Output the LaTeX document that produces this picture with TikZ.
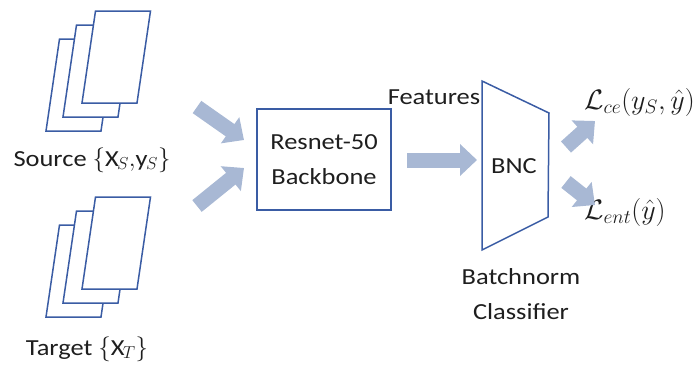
\documentclass[tikz,border=0pt]{standalone}
\usepackage{fontspec}
\setmainfont{Carlito}[FakeStretch=1.15]
\usetikzlibrary{arrows.meta}
\definecolor{edgeblue}{HTML}{3A5CA4}
\definecolor{arrowfill}{HTML}{A8B8D4}
\definecolor{txt}{HTML}{1E1E1E}
\tikzset{
  sheet/.style={draw=edgeblue, line width=1.5pt, fill=white},
  lbl/.style={inner sep=0pt, font=\fontsize{23}{35}\selectfont, text=txt},
  fatarrow/.style={draw=arrowfill, line width=15pt, -{Triangle[width=31pt,length=17pt]}},
  boxstyle/.style={draw=edgeblue, line width=1.5pt, align=center, minimum width=134pt, minimum height=101pt, font=\fontsize{23}{35}\selectfont, text=txt}
}
\newcommand{\papersheet}[2]{%
  \draw[sheet] (#1,#2) -- ++(55,0) -- ++(13.5,-92) -- ++(-55,0) -- cycle;}
\begin{document}
\begin{tikzpicture}[x=1pt,y=-1pt]
\useasboundingbox (0,0) rectangle (697,367);
% source stack
\papersheet{46}{131}
\papersheet{63}{117}
\papersheet{82}{103}
% target stack
\papersheet{46}{317}
\papersheet{63}{303}
\papersheet{82}{289}
\node[lbl] (src) at (92,160) {Source $\{\mathrm{X}_S{,}\mathrm{y}_S\}$};
\node[lbl] (tgt) at (87,349) {Target $\{\mathrm{X}_T\}$};
% backbone
\node[boxstyle] (bb) at (324,159.5) {Resnet-50\\Backbone};
% classifier trapezoid
\coordinate (t1) at (482,81);
\coordinate (t2) at (549,113);
\coordinate (t3) at (548,217);
\coordinate (t4) at (482,250);
\draw[draw=edgeblue, line width=1.5pt] (t1) -- (t2) -- (t3) -- (t4) -- cycle;
\node[lbl] (bnc) at (514,166) {BNC};
\node[lbl] (feat) at (434,97) {Features};
\node[lbl, align=center] (bncl) at (521,294) {Batchnorm\\Classifier};
\node[lbl, anchor=west] (lce) at (584,102) {\scalebox{1.13}{$\mathcal{L}_{ce}(y_S,\hat{y})$}};
\node[lbl, anchor=west] (lent) at (584,212) {\scalebox{1.13}{$\mathcal{L}_{ent}(\hat{y})$}};
% arrows
\coordinate (a1s) at (197,107); \coordinate (a1e) at (244,140);
\coordinate (a2s) at (197,206); \coordinate (a2e) at (244,168);
\coordinate (a3s) at (407,160); \coordinate (a3e) at (477,160);
\coordinate (a4s) at (566,147); \coordinate (a4e) at (595,121);
\coordinate (a5s) at (566,182); \coordinate (a5e) at (595,205);
\draw[fatarrow] (a1s) -- (a1e);
\draw[fatarrow] (a2s) -- (a2e);
\draw[fatarrow] (a3s) -- (a3e);
\draw[fatarrow] (a4s) -- (a4e);
\draw[fatarrow] (a5s) -- (a5e);
\end{tikzpicture}
\end{document}
